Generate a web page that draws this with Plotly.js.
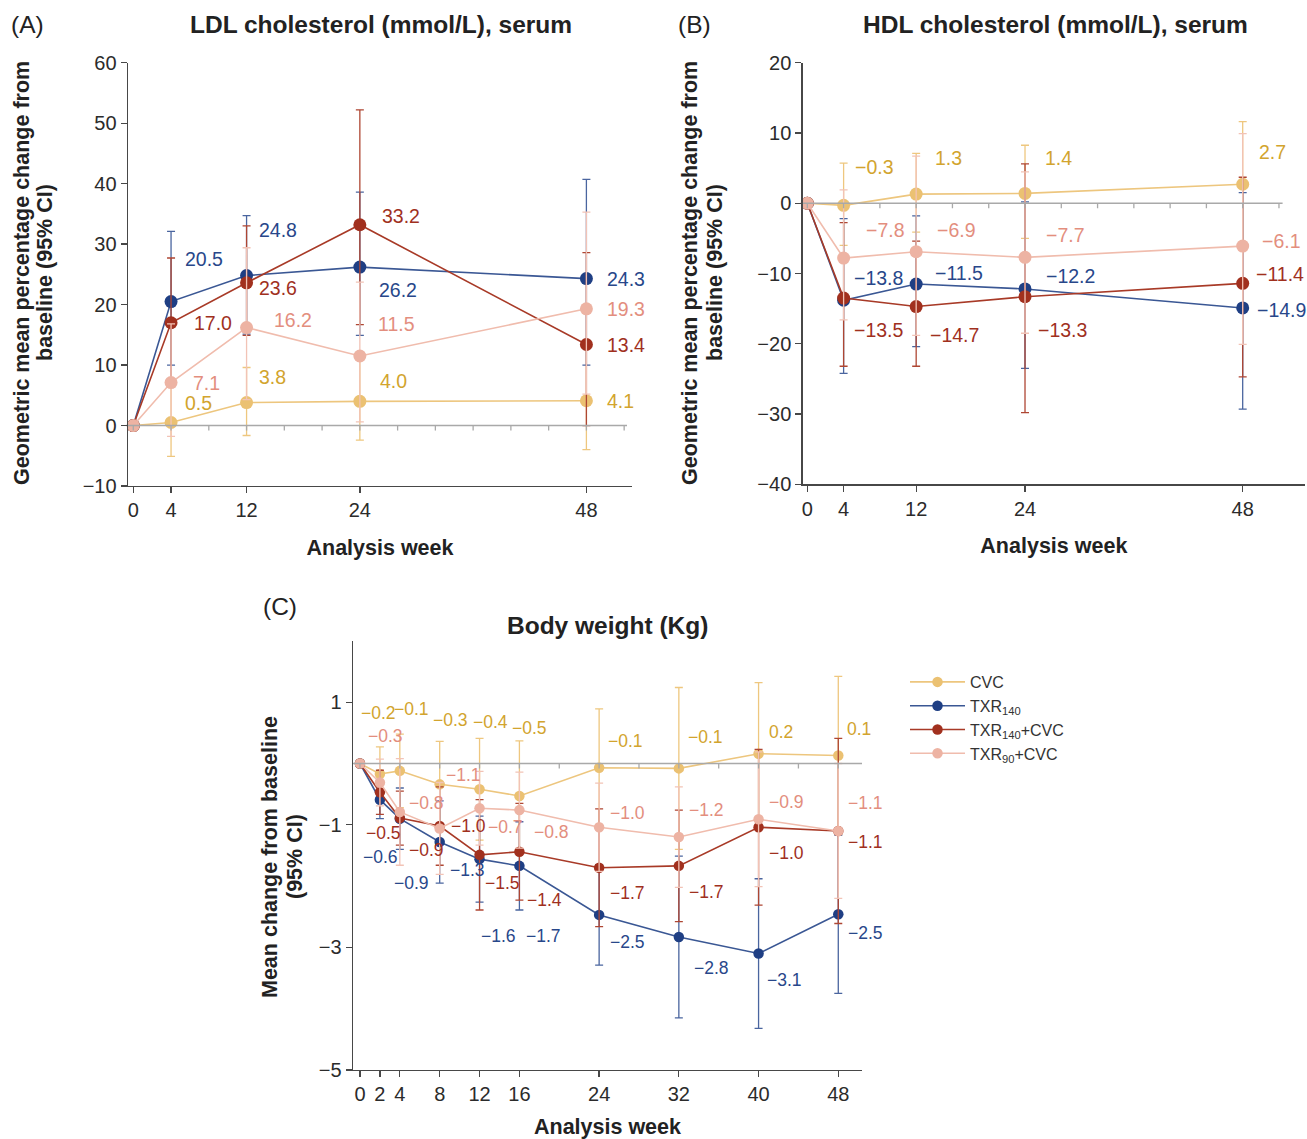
<!DOCTYPE html>
<html><head><meta charset="utf-8">
<script src="https://cdn.plot.ly/plotly-3.0.1.min.js"></script>
<style>html,body{margin:0;padding:0;background:#fff}</style>
</head><body><div id="chart" style="width:1307px;height:1139px"></div>
<script>
// ---------- data ----------
const weeksAB = [0, 4, 12, 24, 48];
const weeksC = [0, 2, 4, 8, 12, 16, 24, 32, 40, 48];
const seriesNames = ['CVC', 'TXR<sub>140</sub>', 'TXR<sub>140</sub>+CVC', 'TXR<sub>90</sub>+CVC'];

// (A) LDL cholesterol, geometric mean % change with 95% CI bounds
const ldlCVC = [0, 0.5, 3.8, 4.0, 4.1];
const ldlCVCLow = [0, -5.1, -1.65, -2.4, -4.0];
const ldlCVCHigh = [0, 6.4, 9.6, 10.8, 12.9];
const ldlTXR140 = [0, 20.5, 24.8, 26.2, 24.3];
const ldlTXR140Low = [0, 10.0, 15.1, 14.9, 10.0];
const ldlTXR140High = [0, 32.1, 34.7, 38.6, 40.7];
const ldlTXR140CVC = [0, 17.0, 23.6, 33.2, 13.4];
const ldlTXR140CVCLow = [0, 7.2, 14.9, 16.7, 0.0];
const ldlTXR140CVCHigh = [0, 27.7, 33.0, 52.2, 28.6];
const ldlTXR90CVC = [0, 7.1, 16.2, 11.5, 19.3];
const ldlTXR90CVCLow = [0, -1.8, 4.3, 0.6, 5.2];
const ldlTXR90CVCHigh = [0, 16.8, 29.4, 23.7, 35.3];

// (B) HDL cholesterol
const hdlCVC = [0, -0.3, 1.3, 1.4, 2.7];
const hdlCVCLow = [0, -6.0, -4.1, -5.0, -5.5];
const hdlCVCHigh = [0, 5.7, 7.1, 8.25, 11.6];
const hdlTXR140 = [0, -13.8, -11.5, -12.2, -14.9];
const hdlTXR140Low = [0, -24.2, -20.4, -23.5, -29.3];
const hdlTXR140High = [0, -2.2, -1.8, 0.2, 1.5];
const hdlTXR140CVC = [0, -13.5, -14.7, -13.3, -11.4];
const hdlTXR140CVCLow = [0, -23.2, -23.2, -29.8, -24.7];
const hdlTXR140CVCHigh = [0, -2.75, -5.4, 5.6, 3.7];
const hdlTXR90CVC = [0, -7.8, -6.9, -7.7, -6.1];
const hdlTXR90CVCLow = [0, -16.6, -18.8, -18.5, -20.1];
const hdlTXR90CVCHigh = [0, 1.9, 6.7, 4.45, 9.9];

// (C) Body weight, mean change (kg) and 95% CI half-width
const bwCVC = [0, -0.17, -0.12, -0.34, -0.42, -0.53, -0.07, -0.08, 0.16, 0.13];
const bwCVCErr = [0, 0.44, 0.6, 0.7, 0.83, 0.9, 0.96, 1.32, 1.16, 1.29];
const bwTXR140 = [0, -0.59, -0.90, -1.28, -1.56, -1.67, -2.47, -2.83, -3.10, -2.46];
const bwTXR140Err = [0, 0.31, 0.5, 0.67, 0.7, 0.72, 0.82, 1.32, 1.22, 1.29];
const bwTXR140CVC = [0, -0.47, -0.89, -1.02, -1.49, -1.44, -1.70, -1.67, -1.04, -1.10];
const bwTXR140CVCErr = [0, 0.36, 0.44, 0.64, 0.9, 0.79, 0.96, 0.91, 1.27, 1.51];
const bwTXR90CVC = [0, -0.31, -0.79, -1.06, -0.73, -0.76, -1.04, -1.20, -0.91, -1.10];
const bwTXR90CVCErr = [0, 0.38, 0.87, 0.75, 0.6, 0.62, 0.72, 0.82, 1.1, 1.1];

const xTicksAB = [0, 4, 12, 24, 48];
const xTicksC = [0, 2, 4, 8, 12, 16, 24, 32, 40, 48];
const yTicksA = [-10, 0, 10, 20, 30, 40, 50, 60];
const yTicksB = [-40, -30, -20, -10, 0, 10, 20];
const yTicksC = [1, -1, -3, -5];

const titleA = 'LDL cholesterol (mmol/L), serum';
const titleB = 'HDL cholesterol (mmol/L), serum';
const titleC = 'Body weight (Kg)';
const yTitleAB = ['Geometric mean percentage change from', 'baseline (95% CI)'];
const yTitleC = ['Mean change from baseline', '(95% CI)'];
const xTitle = 'Analysis week';

// ---------- style ----------
const FONT = 'Liberation Sans, Arial, Helvetica, sans-serif';
const markerColors = ['#EBC172', '#1F3F84', '#A1301E', '#EDB3A3'];
const lineColors = ['#EDC67E', '#3A5794', '#A83A27', '#F0BCAD'];
const errColors = ['#EEC77F', '#4A659F', '#AE4633', '#F2C3B6'];
const textColors = ['#D2A42E', '#28478A', '#A0301E', '#E38E7E'];
const axisColor = '#474747';
const zeroColor = '#A9A9A9';

// label offsets (pixels) [xshift, yshift] per series per point (index 1..)
const offA = [
  [[12, 20], [10, 26], [18, 20], [19, 0]],
  [[12, 43], [10, 46], [17, -23], [19, 0]],
  [[21, 0], [10, -5], [20, 9], [19, 0]],
  [[20, 0], [25, 8], [16, 32], [19, 0]]
];
const offB = [
  [[9, 38], [17, 36], [18, 35], [14, 32]],
  [[8, 22], [17, 11], [19, 13], [12, -2]],
  [[8, -32], [12, -28], [11, -33], [11, 9]],
  [[20, 28], [19, 22], [19, 22], [17, 5]]
];
const offC = [
  [[-21, 61], [-8, 62], [-9, 64], [-9, 67], [-9, 68], [7, 27], [7, 31], [8, 22], [7, 27]],
  [[-19, -57], [-8, -64], [8, -28], [-1, -77], [5, -70], [9, -27], [13, -31], [6, -26], [8, -19]],
  [[-16, -41], [7, -32], [9, 0], [3, -28], [6, -48], [9, -25], [8, -26], [8, -26], [8, -11]],
  [[-14, 47], [7, 9], [4, 53], [6, -19], [13, -22], [9, 14], [8, 27], [8, 17], [8, 28]]
];

function fmt(v) { return v.toFixed(1).replace('-', '\u2212'); }

function mkTrace(x, y, lo, hi, k, xa, ya, size, showlegend) {
  return {
    type: 'scatter', mode: 'lines+markers', x: x, y: y, xaxis: xa, yaxis: ya,
    name: seriesNames[k], showlegend: showlegend, legendgroup: 'g' + k,
    line: {color: lineColors[k], width: 1.6},
    marker: {color: markerColors[k], size: size},
    error_y: {type: 'data', symmetric: false,
      array: hi.map((h, i) => h - y[i]), arrayminus: y.map((v, i) => v - lo[i]),
      color: errColors[k], thickness: 1.3, width: 4},
    cliponaxis: false, hoverinfo: 'skip'
  };
}

const traces = [];
const annotations = [];
function addLabels(x, y, k, xa, ya, offs, size) {
  for (let i = 1; i < x.length; i++) {
    annotations.push({xref: xa, yref: ya, x: x[i], y: y[i], text: fmt(y[i]), showarrow: false,
      xanchor: 'left', yanchor: 'middle', xshift: offs[i - 1][0], yshift: offs[i - 1][1],
      font: {family: FONT, size: size, color: textColors[k]}});
  }
}

const ldl = [[ldlCVC, ldlCVCLow, ldlCVCHigh], [ldlTXR140, ldlTXR140Low, ldlTXR140High],
             [ldlTXR140CVC, ldlTXR140CVCLow, ldlTXR140CVCHigh], [ldlTXR90CVC, ldlTXR90CVCLow, ldlTXR90CVCHigh]];
const hdl = [[hdlCVC, hdlCVCLow, hdlCVCHigh], [hdlTXR140, hdlTXR140Low, hdlTXR140High],
             [hdlTXR140CVC, hdlTXR140CVCLow, hdlTXR140CVCHigh], [hdlTXR90CVC, hdlTXR90CVCLow, hdlTXR90CVCHigh]];
const bw = [[bwCVC, bwCVCErr], [bwTXR140, bwTXR140Err], [bwTXR140CVC, bwTXR140CVCErr], [bwTXR90CVC, bwTXR90CVCErr]];

for (let k = 0; k < 4; k++) {
  traces.push(mkTrace(weeksAB, ldl[k][0], ldl[k][1], ldl[k][2], k, 'x', 'y', 13, false));
  addLabels(weeksAB, ldl[k][0], k, 'x', 'y', offA[k], 19.5);
}
for (let k = 0; k < 4; k++) {
  traces.push(mkTrace(weeksAB, hdl[k][0], hdl[k][1], hdl[k][2], k, 'x2', 'y2', 13, false));
  addLabels(weeksAB, hdl[k][0], k, 'x2', 'y2', offB[k], 19.5);
}
for (let k = 0; k < 4; k++) {
  const y = bw[k][0], e = bw[k][1];
  traces.push(mkTrace(weeksC, y, y.map((v, i) => v - e[i]), y.map((v, i) => v + e[i]), k, 'x3', 'y3', 10.5, true));
  addLabels(weeksC, y, k, 'x3', 'y3', offC[k], 17.5);
}

// titles, panel letters and y-axis titles (paper pixel positions)
function txt(x, y, text, size, bold, anchor, angle) {
  annotations.push({xref: 'paper', yref: 'paper', x: x / 1307, y: 1 - y / 1139, text: text, showarrow: false,
    xanchor: anchor, yanchor: 'middle', textangle: angle || 0,
    font: {family: FONT, size: size, color: '#222', weight: bold ? 'bold' : 'normal'}});
}
txt(381, 25, titleA, 24.5, true, 'center');
txt(1055, 25, titleB, 24.5, true, 'center');
txt(607, 625, titleC, 24.5, true, 'center');
txt(9, 25, '(A)', 24.5, false, 'left');
txt(676, 25, '(B)', 24.5, false, 'left');
txt(261, 606, '(C)', 24.5, false, 'left');
txt(22, 273, yTitleAB[0], 21.5, true, 'center', -90);
txt(45, 273, yTitleAB[1], 21.5, true, 'center', -90);
txt(690, 273, yTitleAB[0], 21.5, true, 'center', -90);
txt(715, 273, yTitleAB[1], 21.5, true, 'center', -90);
txt(270, 857, yTitleC[0], 21.5, true, 'center', -90);
txt(295, 857, yTitleC[1], 21.5, true, 'center', -90);

// zero reference lines with small ticks every 4 weeks
const shapes = [];
function zeroLine(xa, ya, x0, x1, tmax) {
  shapes.push({type: 'line', xref: xa, yref: ya, x0: x0, x1: x1, y0: 0, y1: 0, line: {color: zeroColor, width: 1.5}});
  for (let w = 0; w <= tmax; w += 4) {
    shapes.push({type: 'line', xref: xa, yref: ya, x0: w, x1: w, ysizemode: 'pixel', yanchor: 0, y0: 0, y1: -5,
      line: {color: zeroColor, width: 1.3}});
  }
}
zeroLine('x', 'y', -0.56, 52.3, 52);
zeroLine('x2', 'y2', -0.51, 52.4, 52);
zeroLine('x3', 'y3', -0.7, 50.4, 48);

function xAxis(domain, range, ticks, anchor, standoff) {
  return {domain: domain, range: range, tickvals: ticks, ticktext: ticks.map(String), anchor: anchor,
    showline: true, linecolor: axisColor, linewidth: 1.4, ticks: 'outside', ticklen: 6, tickcolor: axisColor, tickwidth: 1.3,
    showgrid: false, zeroline: false, automargin: false, fixedrange: true,
    tickfont: {family: FONT, size: 20, color: '#2b2b2b'},
    title: {text: xTitle, standoff: standoff, font: {family: FONT, size: 21.5, color: '#222', weight: 'bold'}}};
}
function yAxis(domain, range, tickvals, anchor) {
  return {domain: domain, range: range, tickvals: tickvals, anchor: anchor,
    showline: true, linecolor: axisColor, linewidth: 1.4, ticks: 'outside', ticklen: 6, tickcolor: axisColor, tickwidth: 1.3,
    showgrid: false, zeroline: false, automargin: false, fixedrange: true,
    tickfont: {family: FONT, size: 20, color: '#2b2b2b'}};
}

const layout = {
  width: 1307, height: 1139, autosize: false,
  margin: {l: 0, r: 0, t: 0, b: 0, pad: 0},
  paper_bgcolor: '#fff', plot_bgcolor: 'rgba(0,0,0,0)',
  font: {family: FONT, color: '#222'},
  showlegend: true,
  legend: {x: 905 / 1307, y: 1 - 665 / 1139, xanchor: 'left', yanchor: 'top', bgcolor: 'rgba(0,0,0,0)',
    font: {family: FONT, size: 16, color: '#333'}, itemwidth: 55, tracegroupgap: 0, traceorder: 'normal'},
  xaxis: xAxis([128 / 1307, 632 / 1307], [-0.56, 52.83], xTicksAB, 'y', 19),
  yaxis: yAxis([1 - 486 / 1139, 1 - 62.7 / 1139], [-10, 60], yTicksA, 'x'),
  xaxis2: xAxis([802.7 / 1307, 1305 / 1307], [-0.51, 54.87], xTicksAB, 'y2', 19),
  yaxis2: yAxis([1 - 484.3 / 1139, 1 - 62.7 / 1139], [-40, 20], yTicksB, 'x2'),
  xaxis3: xAxis([353 / 1307, 862 / 1307], [-0.7, 50.38], xTicksC, 'y3', 17),
  yaxis3: yAxis([1 - 1070 / 1139, 1 - 640.9 / 1139], [-5, 2], yTicksC, 'x3'),
  annotations: annotations,
  shapes: shapes
};

Plotly.newPlot('chart', traces, layout, {staticPlot: true, displayModeBar: false});
</script>
</body></html>
